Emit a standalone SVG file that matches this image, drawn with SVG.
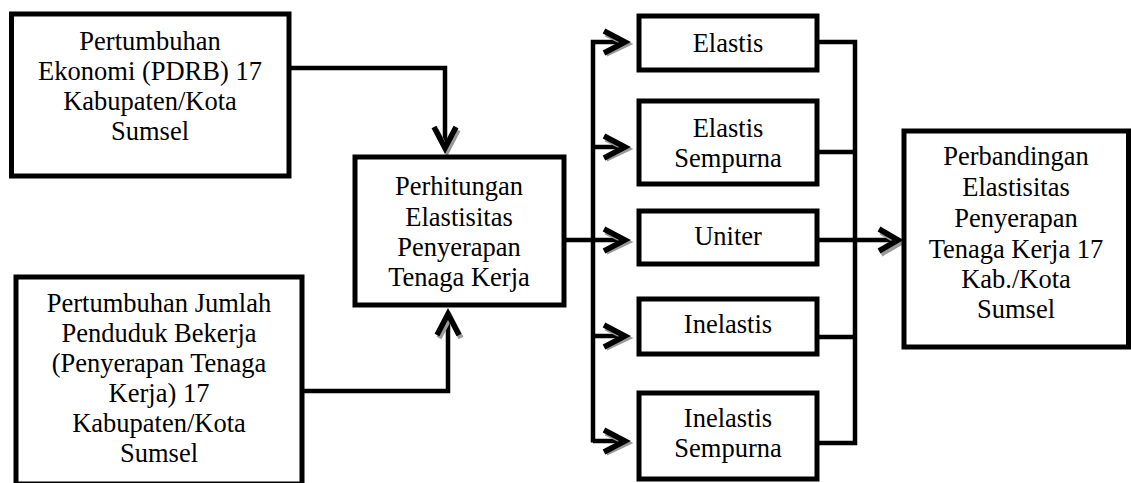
<svg xmlns="http://www.w3.org/2000/svg" width="1131" height="483" viewBox="0 0 1131 483">
<defs>
<style>
.box{fill:#fff;stroke:#000;stroke-width:5}
text{font-size:26.5px;fill:#000;text-anchor:middle}
.ln{fill:none;stroke:#000;stroke-width:4.5}
.hd{fill:none;stroke:#000;stroke-width:5.5;stroke-linejoin:miter;stroke-miterlimit:10}
.sh{fill:none;stroke:#999;stroke-width:5.5;stroke-linejoin:miter;stroke-miterlimit:10}
</style>
</defs>
<rect width="1131" height="483" fill="#fff"/>
<g id="connectors">
<path class="ln" d="M289,68 H445 V146"/>
<path class="sh" d="M436,130 L447,151 L458,130"/>
<path class="hd" d="M434,127 L445,148 L456,127"/>
<path class="ln" d="M302,391 H448 V318"/>
<path class="sh" d="M439,338 L450,317 L461,338"/>
<path class="hd" d="M437,335 L448,314 L459,335"/>
<path class="ln" d="M564,240 H623"/>
<path class="ln" d="M593,442.5 V42 H623"/>
<path class="ln" d="M593,147 H623"/>
<path class="ln" d="M593,336 H623"/>
<path class="ln" d="M593,441 H623"/>
<path class="sh" d="M606,34 L627,44 L606,54"/>
<path class="sh" d="M606,139 L627,149 L606,159"/>
<path class="sh" d="M606,232 L627,242 L606,252"/>
<path class="sh" d="M606,328 L627,338 L606,348"/>
<path class="sh" d="M606,433 L627,443 L606,453"/>
<path class="hd" d="M604,31 L625,42 L604,53"/>
<path class="hd" d="M604,136 L625,147 L604,158"/>
<path class="hd" d="M604,229 L625,240 L604,251"/>
<path class="hd" d="M604,325 L625,336 L604,347"/>
<path class="hd" d="M604,430 L625,441 L604,452"/>
<path class="ln" d="M817,42 H855 V443 H817"/>
<path class="ln" d="M817,152 H855"/>
<path class="ln" d="M817,337 H855"/>
<path class="ln" d="M817,240 H896"/>
<path class="sh" d="M881,232 L900,243 L881,254"/>
<path class="hd" d="M879,229 L898,240 L879,251"/>
</g>
<g font-family="Liberation Serif, Times New Roman, serif">
<g id="n1">
<rect class="box" x="11.5" y="14" width="277.5" height="162"/>
<text x="150" y="50">Pertumbuhan</text>
<text x="150" y="80">Ekonomi (PDRB) 17</text>
<text x="150" y="110">Kabupaten/Kota</text>
<text x="150" y="140">Sumsel</text>
</g>
<g id="n2">
<rect class="box" x="16" y="277" width="286" height="207"/>
<text x="159" y="312">Pertumbuhan Jumlah</text>
<text x="159" y="342">Penduduk Bekerja</text>
<text x="159" y="372">(Penyerapan Tenaga</text>
<text x="159" y="402">Kerja) 17</text>
<text x="159" y="432">Kabupaten/Kota</text>
<text x="159" y="462">Sumsel</text>
</g>
<g id="n3">
<rect class="box" x="355" y="157" width="209" height="148"/>
<text x="459" y="195">Perhitungan</text>
<text x="459" y="225.5">Elastisitas</text>
<text x="459" y="255.5">Penyerapan</text>
<text x="459" y="285.5">Tenaga Kerja</text>
</g>
<g id="elastis">
<rect class="box" x="639" y="16" width="178" height="54"/>
<text x="728" y="52">Elastis</text>
</g>
<g id="elastis-sempurna">
<rect class="box" x="639" y="101" width="178" height="83"/>
<text x="728" y="137">Elastis</text>
<text x="728" y="167">Sempurna</text>
</g>
<g id="uniter">
<rect class="box" x="639" y="211" width="178" height="53"/>
<text x="728" y="245">Uniter</text>
</g>
<g id="inelastis">
<rect class="box" x="639" y="299" width="178" height="55"/>
<text x="728" y="333">Inelastis</text>
</g>
<g id="inelastis-sempurna">
<rect class="box" x="639" y="393" width="178" height="86"/>
<text x="728" y="427">Inelastis</text>
<text x="728" y="457">Sempurna</text>
</g>
<g id="n4">
<rect class="box" x="904" y="131" width="224.5" height="216"/>
<text x="1016" y="165">Perbandingan</text>
<text x="1016" y="196">Elastisitas</text>
<text x="1016" y="227">Penyerapan</text>
<text x="1016" y="258">Tenaga Kerja 17</text>
<text x="1016" y="288">Kab./Kota</text>
<text x="1016" y="318">Sumsel</text>
</g>
</g>
</svg>
